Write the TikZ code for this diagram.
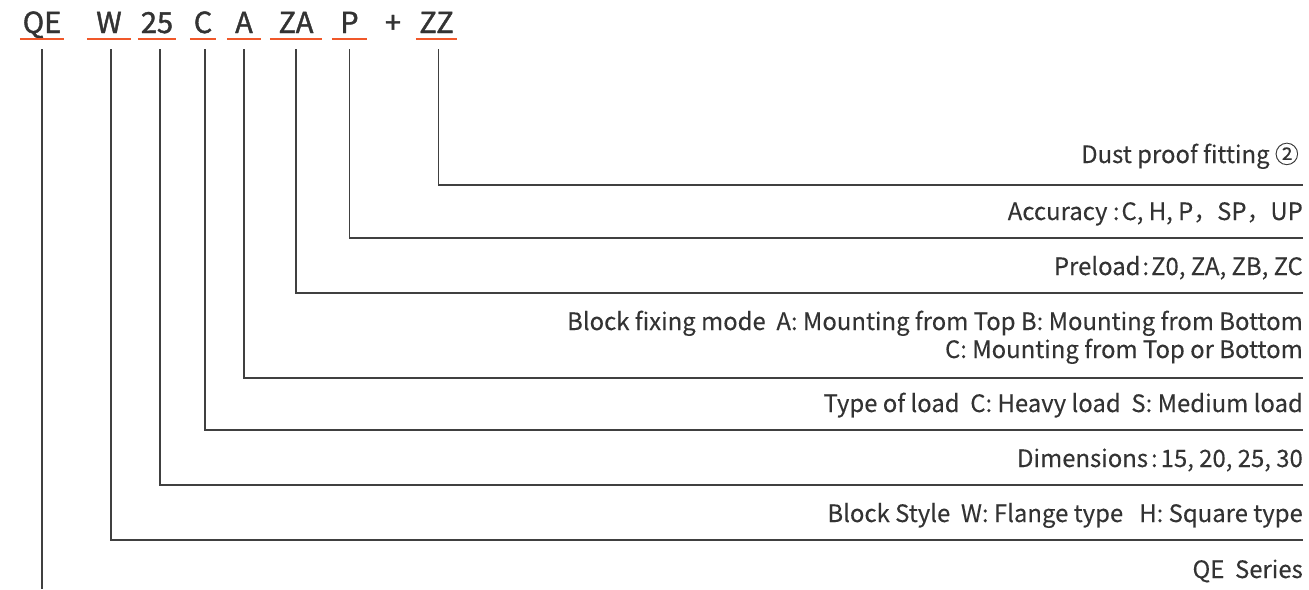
\documentclass[tikz,border=0pt]{standalone}
\usepackage{fontspec}
\setmainfont{Noto Sans CJK SC}
\newfontfamily\codefont[FakeBold=1.4]{Noto Sans CJK SC}
\newfontfamily\descfont[FakeBold=0.15]{Noto Sans CJK SC}
\definecolor{codegray}{HTML}{333333}
\definecolor{linegray}{HTML}{404040}
\definecolor{codeorange}{HTML}{F0582A}

\begin{document}
\begin{tikzpicture}[
x=1pt, y=-1pt,
code/.style={font=\codefont\fontsize{29}{32}\selectfont, text=codegray, anchor=base, inner xsep=0pt, inner ysep=6pt, text height=20pt, text depth=0pt},
uline/.style={draw=codeorange, line width=2.5pt},
desc/.style={font=\descfont\fontsize{23.9}{28}\selectfont, text=codegray, anchor=base east, inner sep=0pt, align=right},
link/.style={draw=linegray, line width=1.6pt} ]

\useasboundingbox (0,0) rectangle (1309,589);

\node[code, minimum width=44pt] (qe) at (42,33) {QE};

\node[code, minimum width=44pt] (w) at (109,33) {W};

\node[code, minimum width=38pt] (size) at (157,33) {25};

\node[code, minimum width=26pt] (load) at (203,33) {C};

\node[code, minimum width=34pt] (fix) at (244,33) {A};

\node[code, minimum width=52pt] (pre) at (296,33) {ZA};

\node[code, minimum width=35pt] (acc) at (349.5,33) {P};

\node[code] (plus) at (393,33) {+};

\node[code, minimum width=41pt] (dust) at (436.5,33) {ZZ};

\foreach \n in {qe,w,size,load,fix,pre,acc,dust}
  \draw[uline] (\n.south west) -- (\n.south east);

\node[desc] (dustlbl) at (1299,163) {Dust proof fitting ②};

\node[desc] (acclbl) at (1303,220) {Accuracy\ :\kern2pt C, H, P，SP，UP};

\node[desc] (prelbl) at (1303,275) {Preload\kern2pt:\kern2pt Z0, ZA, ZB, ZC};

\node[desc] (fixlbl) at (1303,358) {Block fixing mode\ \ A: Mounting from Top B: Mounting from Bottom\\C: Mounting from Top or Bottom};

\node[desc] (loadlbl) at (1303,412) {Type of load\ \ C: Heavy load\ \ S: Medium load};

\node[desc] (sizelbl) at (1303,467) {Dimensions\kern3pt:\kern3pt 15, 20, 25, 30};

\node[desc] (wlbl) at (1303,522) {Block Style\ \ W: Flange type\ \ \ H: Square type};

\node[desc] (qelbl) at (1303,578) {QE\ \ Series};

\coordinate (dustend) at (1303,185);
\coordinate (accend) at (1303,238);
\coordinate (preend) at (1303,293);
\coordinate (fixend) at (1303,378);
\coordinate (loadend) at (1303,430);
\coordinate (sizeend) at (1303,485);
\coordinate (wend) at (1303,540);
\coordinate (qeend) at (41,589);

\draw[link] ([xshift=2pt,yshift=-10pt]dust.south) |- (dustend);
\draw[link] ([yshift=-10pt]acc.south) |- (accend);
\draw[link] ([yshift=-10pt]pre.south) |- (preend);
\draw[link] ([yshift=-10pt]fix.south) |- (fixend);
\draw[link] ([xshift=2pt,yshift=-10pt]load.south) |- (loadend);
\draw[link] ([xshift=3pt,yshift=-10pt]size.south) |- (sizeend);
\draw[link] ([xshift=2pt,yshift=-10pt]w.south) |- (wend);
\draw[link] ([yshift=-10pt]qe.south) -- (qe.south |- qeend);

\end{tikzpicture}
\end{document}
